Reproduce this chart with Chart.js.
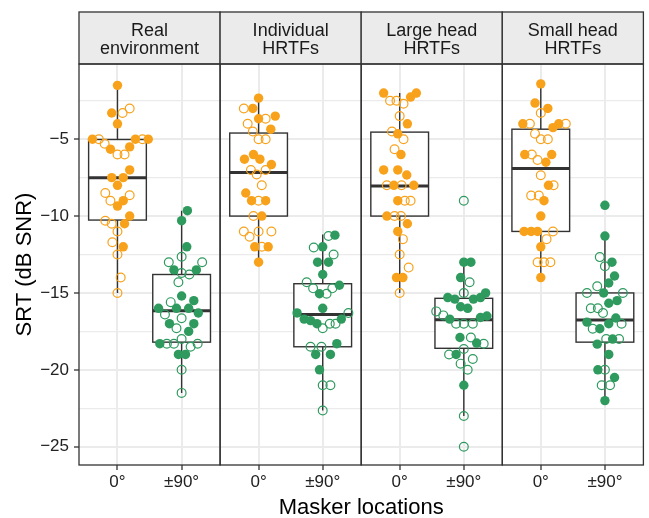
<!DOCTYPE html>
<html>
<head>
<meta charset="utf-8">
<script src="https://cdn.jsdelivr.net/npm/chart.js@4.4.1/dist/chart.umd.min.js"></script>
<style>
  html, body { margin: 0; padding: 0; background: #fff; }
</style>
</head>
<body>
<canvas id="srtChart" width="649" height="518"></canvas>
<script>
// facets and x levels
const panelLabels = [['Real', 'environment'], ['Individual', 'HRTFs'], ['Large head', 'HRTFs'], ['Small head', 'HRTFs']];
const maskerLocations = ['0°', '±90°'];
const yTicks = [-25, -22.5, -20, -17.5, -15, -12.5, -10, -7.5, -5, -2.5];
const yLimits = [-26.19, -0.11];

// participants: [SRT, horizontal jitter in level units]
const real0Filled = [[-1.5, 0], [-3.3, -0.09], [-4, 0], [-5, -0.39], [-5, 0.28], [-5, 0.48], [-5.65, -0.11], [-5.5, 0.19], [-7, 0.19], [-7.5, -0.09], [-7.5, 0.09], [-8, 0], [-9.35, 0], [-9, 0.09], [-10, 0.19], [-10.5, 0.11], [-12, 0.09]];
const real0Open = [[-3.3, 0.08], [-3, 0.19], [-5, -0.29], [-5.3, -0.2], [-6, 0], [-6, 0.11], [-5, 0.39], [-8.5, -0.19], [-9, -0.11], [-8.65, 0.19], [-10.3, -0.19], [-10.5, -0.09], [-11, 0], [-11.7, -0.08], [-12.5, 0], [-14, 0.05], [-15, 0]];
const real90Filled = [[-9.65, 0.09], [-10.3, 0], [-12, 0.08], [-13.5, -0.12], [-13.5, 0.23], [-15.2, 0], [-15.5, 0.19], [-16, -0.36], [-16, -0.08], [-16, 0.11], [-16.3, 0.26], [-17, -0.19], [-17, 0.19], [-17.5, 0.11], [-18.3, -0.34], [-19, -0.05], [-19, 0.06]];
const real90Open = [[-12.65, 0], [-13, -0.2], [-13, 0.32], [-13.7, 0], [-13.8, 0.12], [-14.3, -0.05], [-15.6, -0.17], [-16.4, -0.26], [-16.65, 0], [-17.3, -0.08], [-18, 0], [-18.3, -0.23], [-18.3, -0.12], [-18.5, 0.14], [-18.3, 0.25], [-20, 0], [-21.5, 0]];

const indiv0Filled = [[-2.33, 0], [-3, -0.09], [-3.5, 0.26], [-3.67, 0], [-4.35, 0.19], [-6, -0.08], [-6.3, -0.22], [-6.3, 0.02], [-6.65, 0.2], [-8.5, -0.2], [-9, -0.11], [-9, 0.11], [-10, 0.05], [-12, -0.06], [-12, 0.15], [-13, 0]];
const indiv0Open = [[-3, -0.23], [-3.67, 0.11], [-4, -0.17], [-4.5, -0.09], [-5, 0], [-5, 0.11], [-7, -0.12], [-7.3, -0.03], [-7, 0.11], [-8, 0.05], [-9, 0], [-10, -0.08], [-11, -0.23], [-11.35, -0.14], [-11, 0], [-11, 0.2], [-12, 0.05]];
const indiv90Filled = [[-11.24, 0.19], [-12, 0], [-13, -0.08], [-13, 0.09], [-13.8, 0], [-14.5, 0.26], [-15.05, -0.05], [-16, 0], [-16.3, -0.4], [-16.7, -0.29], [-16.8, -0.19], [-17, -0.09], [-16.7, 0.29], [-18.3, 0.22], [-19, -0.11], [-19, 0.12], [-20, -0.05]];
const indiv90Open = [[-11.3, 0.09], [-12.04, -0.14], [-12.5, 0.17], [-14.3, -0.25], [-14.7, -0.15], [-14.7, 0.15], [-15.05, 0.06], [-16.3, 0.4], [-17.3, 0], [-17, 0.11], [-17, 0.2], [-18.5, -0.19], [-18.5, -0.02], [-21, 0], [-21, 0.12], [-22.65, 0]];

const large0Filled = [[-2, -0.25], [-2.26, 0.17], [-2, 0.26], [-4, 0.12], [-4.65, -0.03], [-6, 0.02], [-7, -0.25], [-7, -0.03], [-7.33, 0.11], [-8, -0.09], [-8, 0.22], [-9, -0.03], [-10, -0.2], [-10.5, 0.12], [-11, -0.03], [-14, -0.05], [-14, 0.05]];
const large0Open = [[-2.5, -0.15], [-2.5, -0.05], [-2.7, 0.06], [-3.5, 0], [-4.5, -0.12], [-5, 0.06], [-5.65, -0.08], [-8, -0.2], [-8, 0.03], [-9, 0.08], [-9, 0.17], [-10, -0.08], [-10, 0.02], [-11.5, 0.05], [-12.5, 0], [-13.35, 0.14], [-15, 0]];
const large90Filled = [[-13, 0], [-13, 0.11], [-14, -0.05], [-15.3, -0.25], [-15.4, -0.14], [-15.4, 0.15], [-15.3, 0.26], [-15, 0.34], [-15.9, -0.05], [-16, 0.06], [-16.7, -0.22], [-16.6, 0.26], [-16.5, 0.36], [-17.9, -0.06], [-18.26, 0.2], [-19, -0.12], [-21, 0]];
const large90Open = [[-9, 0], [-14.3, 0.09], [-15, 0], [-16.2, -0.43], [-16.46, -0.32], [-17, -0.12], [-17, 0], [-17, 0.14], [-17.9, 0.11], [-18.65, 0], [-18.3, 0.31], [-19, -0.23], [-19.6, -0.05], [-19.3, 0.14], [-20, 0.06], [-23, 0], [-25, 0]];

const small0Filled = [[-1.4, 0], [-2.65, -0.09], [-3, 0.11], [-4, -0.28], [-4.25, 0.19], [-4, 0.28], [-6, -0.25], [-6, 0.17], [-6.5, 0.08], [-8, 0.12], [-9, 0.05], [-10, 0], [-11, -0.26], [-11, -0.15], [-11, -0.05], [-12, 0], [-14, 0]];
const small0Open = [[-3.3, 0], [-4, -0.17], [-4, 0.39], [-4.65, -0.09], [-5, 0], [-5, 0.11], [-6, -0.14], [-6.35, -0.05], [-7.35, 0], [-8, 0.2], [-8.67, -0.15], [-8.67, -0.03], [-11, 0.19], [-11.5, 0.09], [-13, -0.05], [-13, 0.05], [-13, 0.15]];
const small90Filled = [[-9.3, 0], [-11.3, 0], [-13, 0.11], [-13.9, 0.15], [-14.35, 0.06], [-15, -0.02], [-15.5, 0.19], [-15.67, 0.06], [-16.9, -0.28], [-16.63, 0.17], [-17, 0.06], [-17.33, -0.08], [-18, 0.12], [-18.33, -0.12], [-19, 0.06], [-20, -0.11], [-20.5, 0.15], [-22, 0]];
const small90Open = [[-12.67, -0.08], [-13.26, 0], [-14.57, -0.12], [-15, -0.28], [-15, 0.28], [-16, -0.22], [-16, -0.11], [-16.3, -0.03], [-17, 0.26], [-17.33, -0.19], [-18, 0.02], [-18, 0.22], [-20, 0], [-21, -0.05], [-21, 0.08]];

// box statistics, group order: real 0, real 90, indiv 0, indiv 90, large 0, large 90, small 0, small 90
const whiskerLow = [-15, -21.5, -13, -22.65, -15, -23, -14, -22];
const boxQ1 = [-10.26, -18.2, -10, -18.5, -10, -18.6, -11, -18.2];
const boxMedian = [-7.5, -16.15, -7.17, -16.4, -8.04, -16.74, -6.91, -16.76];
const boxQ3 = [-5.02, -13.8, -4.6, -14.4, -4.54, -15.35, -4.35, -15];
const whiskerHigh = [-1.5, -9.65, -2.33, -11.2, -2, -13, -1.4, -11.3];

const filledGroups = [real0Filled, real90Filled, indiv0Filled, indiv90Filled, large0Filled, large90Filled, small0Filled, small90Filled];
const openGroups = [real0Open, real90Open, indiv0Open, indiv90Open, large0Open, large90Open, small0Open, small90Open];

const orange = '#F8A21C';
const green = '#2E9A5E';
const panelSpan = 2.2;      // two levels plus ggplot's 0.6 expansion each side
const levelPos = [0.6, 1.6];
const boxWidth = 0.9;
const stripTop = 12;

Chart.defaults.font.family = '"Liberation Sans", Arial, sans-serif';

function groupX(g) {
    return Math.floor(g / 2) * panelSpan + levelPos[g % 2];
}

function collect(groups, level) {
    var out = [];
    groups.forEach(function (list, g) {
        if (g % 2 !== level) return;
        list.forEach(function (p) {
            out.push({ x: groupX(g) + p[1], y: p[0] });
        });
    });
    return out;
}

const xTickValues = [0, 1, 2, 3, 4, 5, 6, 7].map(groupX);

// boxes and whiskers under the points
const boxPlugin = {
    id: 'boxes',
    beforeDatasetsDraw(chart) {
        const { ctx, scales: { x, y } } = chart;
        ctx.save();
        ctx.strokeStyle = '#333333';
        for (let g = 0; g < 8; g++) {
            const xc = x.getPixelForValue(groupX(g));
            const l = x.getPixelForValue(groupX(g) - boxWidth / 2);
            const r = x.getPixelForValue(groupX(g) + boxWidth / 2);
            const top = y.getPixelForValue(boxQ3[g]);
            const bot = y.getPixelForValue(boxQ1[g]);
            ctx.lineWidth = 1.4;
            ctx.beginPath();
            ctx.moveTo(xc, y.getPixelForValue(whiskerHigh[g]));
            ctx.lineTo(xc, top);
            ctx.moveTo(xc, bot);
            ctx.lineTo(xc, y.getPixelForValue(whiskerLow[g]));
            ctx.stroke();
            ctx.fillStyle = '#ffffff';
            ctx.fillRect(l, top, r - l, bot - top);
            ctx.strokeRect(l, top, r - l, bot - top);
            ctx.lineWidth = 3;
            ctx.beginPath();
            const m = y.getPixelForValue(boxMedian[g]);
            ctx.moveTo(l, m);
            ctx.lineTo(r, m);
            ctx.stroke();
        }
        ctx.restore();
    }
};

// panel borders and strips
const facetPlugin = {
    id: 'facets',
    afterDraw(chart) {
        const { ctx, chartArea: a, scales: { x } } = chart;
        ctx.save();
        ctx.strokeStyle = '#333333';
        ctx.lineWidth = 1.3;
        ctx.font = '18px "Liberation Sans", Arial, sans-serif';
        ctx.textAlign = 'center';
        ctx.textBaseline = 'alphabetic';
        for (let k = 0; k < panelLabels.length; k++) {
            const l = x.getPixelForValue(k * panelSpan);
            const r = x.getPixelForValue((k + 1) * panelSpan);
            ctx.fillStyle = '#EBEBEB';
            ctx.fillRect(l, stripTop, r - l, a.top - stripTop);
            ctx.strokeRect(l, stripTop, r - l, a.top - stripTop);
            ctx.strokeRect(l, a.top, r - l, a.bottom - a.top);
            ctx.fillStyle = '#1A1A1A';
            panelLabels[k].forEach(function (t, j) {
                ctx.fillText(t, (l + r) / 2, 35.5 + j * 18.7);
            });
        }
        ctx.restore();
    }
};

const ctx = document.getElementById('srtChart').getContext('2d');

new Chart(ctx, {
    type: 'scatter',
    data: {
        datasets: [
            { data: collect(filledGroups, 0), pointRadius: 4.7, backgroundColor: orange, borderWidth: 0 },
            { data: collect(openGroups, 0), pointRadius: 4.4, backgroundColor: 'rgba(0,0,0,0)', borderColor: orange, borderWidth: 1.2 },
            { data: collect(filledGroups, 1), pointRadius: 4.7, backgroundColor: green, borderWidth: 0 },
            { data: collect(openGroups, 1), pointRadius: 4.4, backgroundColor: 'rgba(0,0,0,0)', borderColor: green, borderWidth: 1.2 }
        ]
    },
    options: {
        responsive: false,
        animation: false,
        layout: { padding: { top: 64, right: 1, left: 0, bottom: 0 } },
        plugins: {
            legend: { display: false },
            tooltip: { enabled: false }
        },
        scales: {
            x: {
                type: 'linear',
                min: 0,
                max: panelLabels.length * panelSpan,
                afterBuildTicks: function (s) { s.ticks = xTickValues.map(v => ({ value: v })); },
                afterFit: function (s) { s.height = 53; },
                ticks: {
                    autoSkip: false,
                    maxRotation: 0,
                    padding: 2,
                    color: '#222222',
                    font: { size: 17 },
                    callback: function (v, i) { return maskerLocations[i % 2]; }
                },
                grid: { color: '#EBEBEB', lineWidth: 2, tickColor: '#333333', tickLength: 5, tickWidth: 1.3 },
                border: { display: false },
                title: { display: true, text: 'Masker locations', color: '#000', font: { size: 22 }, padding: { top: 0, bottom: -3 } }
            },
            y: {
                min: yLimits[0],
                max: yLimits[1],
                afterBuildTicks: function (s) { s.ticks = yTicks.map(v => ({ value: v })); },
                afterFit: function (s) { s.width = 79; },
                ticks: {
                    autoSkip: false,
                    padding: 5,
                    color: '#222222',
                    font: { size: 17 },
                    callback: function (v) { return v % 5 === 0 ? '\u2212' + Math.abs(v) : ''; }
                },
                grid: {
                    color: '#EBEBEB',
                    lineWidth: function (c) { return c.tick && c.tick.value % 5 === 0 ? 2 : 1.2; },
                    tickColor: function (c) { return c.tick && c.tick.value % 5 === 0 ? '#333333' : 'rgba(0,0,0,0)'; },
                    tickLength: 5,
                    tickWidth: 1.3
                },
                border: { display: false },
                title: { display: true, text: 'SRT (dB SNR)', color: '#000', font: { size: 22 }, padding: { top: 12, bottom: 0 } }
            }
        }
    },
    plugins: [boxPlugin, facetPlugin]
});
</script>
</body>
</html>
